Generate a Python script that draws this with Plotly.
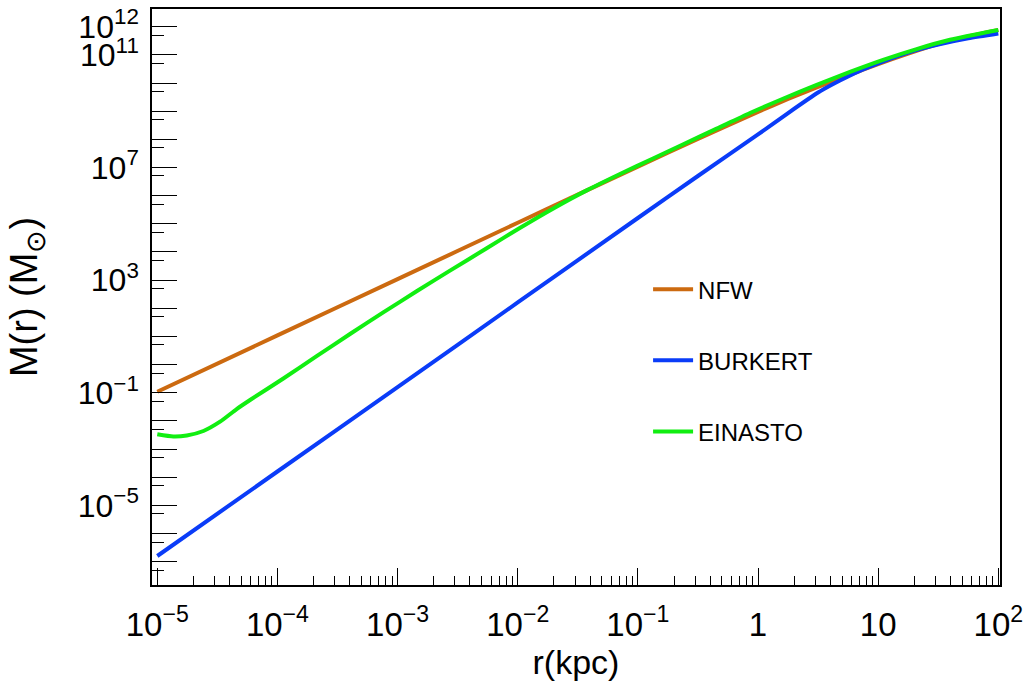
import plotly.graph_objects as go

# Enclosed mass M(r) [solar masses] versus radius r [kpc] for three halo profiles
r_nfw = [1.00e-5, 1.00e-4, 1.00e-3, 1.00e-2, 3.16e-2, 0.100, 0.316, 1.00,
         1.78, 3.16, 5.62, 10.0, 17.8, 31.6, 56.2, 100.0]
m_nfw = [0.109, 10.9, 1.09e3, 1.09e5, 1.09e6, 1.08e7, 1.04e8, 9.51e8,
         2.71e9, 7.23e9, 1.85e10, 4.73e10, 1.12e11, 2.43e11, 4.49e11, 7.64e11]

r_burkert = [1.00e-5, 1.00e-4, 1.00e-3, 1.00e-2, 0.100, 0.316, 1.00, 1.78,
             3.16, 4.22, 5.62, 7.50, 10.0, 17.8, 31.6, 56.2, 100.0]
m_burkert = [1.60e-7, 1.60e-4, 0.160, 161, 1.61e5, 4.99e6, 1.49e8, 8.61e8,
             4.61e9, 9.23e9, 1.71e10, 3.02e10, 5.01e10, 1.21e11, 2.33e11,
             3.87e11, 5.74e11]

r_einasto = [1.00e-5, 1.36e-5, 1.76e-5, 2.42e-5, 3.33e-5, 4.58e-5, 5.92e-5,
             1.12e-4, 2.12e-4, 4.02e-4, 7.60e-4, 1.44e-3, 2.73e-3, 5.52e-3,
             1.04e-2, 1.98e-2, 3.75e-2, 7.10e-2, 0.135, 0.239, 0.453, 0.857,
             1.63, 3.08, 5.83, 11.0, 20.9, 39.6, 100.0]
m_einasto = [3.36e-3, 2.80e-3, 3.04e-3, 4.40e-3, 9.40e-3, 2.65e-2, 5.55e-2,
             0.321, 1.99, 12.2, 71.5, 402, 2.18e3, 1.36e4,
             7.11e4, 3.53e5, 1.54e6, 5.87e6, 2.14e7, 6.71e7, 2.40e8, 8.61e8,
             2.82e9, 8.65e9, 2.50e10, 6.68e10, 1.61e11, 3.43e11, 7.64e11]

series_names = ["NFW", "BURKERT", "EINASTO"]
series_colors = ["#cc6a10", "#0a3cf8", "#11ee11"]

# Axis ticks
x_exps = [-5, -4, -3, -2, -1, 0, 1, 2]
x_labels = ["10<sup>\u22125</sup>", "10<sup>\u22124</sup>", "10<sup>\u22123</sup>",
            "10<sup>\u22122</sup>", "10<sup>\u22121</sup>", "1", "10", "10<sup>2</sup>"]
y_exps = list(range(-7, 13))
y_label_exps = [-5, -1, 3, 7, 11, 12]
y_label_text = ["10<sup>\u22125</sup>", "10<sup>\u22121</sup>", "10<sup>3</sup>",
                "10<sup>7</sup>", "10<sup>11</sup>", "10<sup>12</sup>"]

FONT = "Liberation Sans, Arial, Helvetica, sans-serif"

fig = go.Figure()
for name, color, rr, mm in zip(series_names, series_colors,
                               [r_nfw, r_burkert, r_einasto],
                               [m_nfw, m_burkert, m_einasto]):
    fig.add_trace(go.Scatter(x=rr, y=mm, mode="lines", name=name,
                             legendgroup=name,
                             line=dict(color=color, width=4,
                                       shape="spline", smoothing=0.6)))

x_major = [10.0 ** e for e in x_exps]
x_minor = [k * 10.0 ** e for e in x_exps[:-1] for k in range(2, 10)]
y_major = [10.0 ** e for e in y_exps]
y_text = [y_label_text[y_label_exps.index(e)] if e in y_label_exps else ""
          for e in y_exps]
y_minor = [5 * 10.0 ** (e - 1) for e in y_exps]

fig.update_xaxes(
    type="log", range=[-5.044, 2.014],
    tickmode="array", tickvals=x_major, ticktext=x_labels,
    ticks="inside", ticklen=17, tickwidth=1.3, tickcolor="black",
    minor=dict(tickmode="array", tickvals=x_minor, ticks="inside",
               ticklen=9, tickwidth=1.3, tickcolor="black", showgrid=False),
    showline=True, linecolor="black", linewidth=1.5, mirror=True,
    showgrid=False, zeroline=False,
    tickfont=dict(family=FONT, size=33, color="black"),
    ticklabelstandoff=10,
    title=dict(text="r(kpc)", font=dict(family=FONT, size=34, color="black"),
               standoff=4),
)
fig.update_yaxes(
    type="log", range=[-7.826, 12.629],
    tickmode="array", tickvals=y_major, ticktext=y_text,
    ticks="inside", ticklen=25, tickwidth=1.3, tickcolor="black",
    minor=dict(tickmode="array", tickvals=y_minor, ticks="inside",
               ticklen=12, tickwidth=1.3, tickcolor="black", showgrid=False),
    showline=True, linecolor="black", linewidth=1.5, mirror=True,
    showgrid=False, zeroline=False,
    tickfont=dict(family=FONT, size=32, color="black"),
    ticklabelstandoff=5,
    title=dict(text="M(r) (M<sub>\u2299</sub>)",
               font=dict(family=FONT, size=38, color="black"), standoff=28),
)

fig.update_layout(
    width=1029, height=687,
    margin=dict(l=152, r=29, t=9, b=102, autoexpand=False),
    paper_bgcolor="white", plot_bgcolor="white",
    showlegend=True,
    legend=dict(x=0.585, y=0.552, xanchor="left", yanchor="top",
                bgcolor="rgba(0,0,0,0)", borderwidth=0,
                font=dict(family=FONT, size=24, color="black"),
                tracegroupgap=37, traceorder="grouped", itemwidth=40),
)

fig.write_html("out.html")
